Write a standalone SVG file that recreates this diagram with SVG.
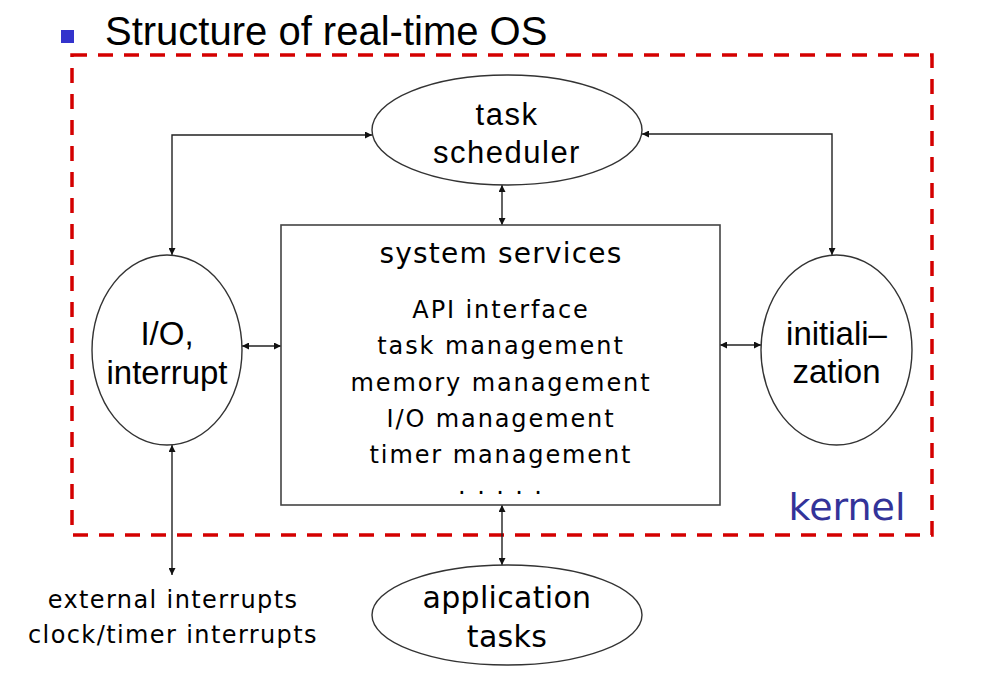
<svg xmlns="http://www.w3.org/2000/svg" width="984" height="678" viewBox="0 0 984 678">
<defs>
<style>
.title{font-family:"Liberation Sans",Arial,sans-serif;font-size:40px;fill:#000}
.lbl{font-family:"Liberation Sans",Arial,sans-serif;font-size:33px;fill:#000;text-anchor:middle}
.sch{font-family:"Liberation Sans",Arial,sans-serif;font-size:31px;letter-spacing:1.5px;fill:#000;text-anchor:middle}
.wide{font-family:"DejaVu Sans",sans-serif;fill:#000;text-anchor:middle}
.hdr{font-size:28px;letter-spacing:1.2px}
.item{font-size:24px;letter-spacing:1.9px}
.ext{font-size:24px;letter-spacing:1.4px}
.app{font-size:30px;letter-spacing:0.3px}
.node{fill:#fff;stroke:#333;stroke-width:1.4}
.conn{fill:none;stroke:#222;stroke-width:1.4}
</style>
<marker id="ah" viewBox="0 0 10 10" refX="10" refY="5" markerWidth="9" markerHeight="7" markerUnits="userSpaceOnUse" orient="auto-start-reverse">
<path d="M0,0 L10,5 L0,10 z" fill="#111"/>
</marker>
</defs>
<rect width="984" height="678" fill="#fff"/>

<g id="title">
<rect x="61" y="30" width="13" height="13" fill="#3333cc"/>
<text class="title" x="105" y="45">Structure of real-time OS</text>
</g>

<g id="kernel">
<rect x="72" y="55" width="860" height="480" fill="none" stroke="#d40000" stroke-width="3.5" stroke-dasharray="15 11"/>
<text class="wide" x="847" y="520" font-size="38" style="fill:#333399">kernel</text>
</g>

<g id="connectors">
<path class="conn" d="M372,135 H172 V255" marker-start="url(#ah)" marker-end="url(#ah)"/>
<path class="conn" d="M642,134 H832 V255" marker-start="url(#ah)" marker-end="url(#ah)"/>
<path class="conn" d="M502,185 V225" marker-start="url(#ah)" marker-end="url(#ah)"/>
<path class="conn" d="M242,346 H281" marker-start="url(#ah)" marker-end="url(#ah)"/>
<path class="conn" d="M720,345 H761" marker-start="url(#ah)" marker-end="url(#ah)"/>
<path class="conn" d="M502,505 V565" marker-start="url(#ah)" marker-end="url(#ah)"/>
<path class="conn" d="M172,445 V575" marker-start="url(#ah)" marker-end="url(#ah)"/>
</g>

<g id="task-scheduler">
<ellipse class="node" cx="507" cy="130" rx="135" ry="55"/>
<text class="sch" x="507" y="125">task</text>
<text class="sch" x="507" y="163">scheduler</text>
</g>

<g id="system-services">
<rect class="node" x="281" y="225" width="439" height="280" style="stroke:#444;stroke-width:1.6"/>
<text class="wide hdr" x="501" y="263">system services</text>
<text class="wide item" x="501" y="318">API interface</text>
<text class="wide item" x="501" y="354">task management</text>
<text class="wide item" x="501" y="391">memory management</text>
<text class="wide item" x="501" y="427">I/O management</text>
<text class="wide item" x="501" y="463">timer management</text>
<text class="wide item" x="501" y="494">. . . . .</text>
</g>

<g id="io-interrupt">
<ellipse class="node" cx="167" cy="350" rx="75" ry="95"/>
<text class="lbl" x="167" y="345">I/O,</text>
<text class="lbl" x="167" y="384">interrupt</text>
</g>

<g id="initialization">
<ellipse class="node" cx="836.5" cy="350" rx="75.5" ry="95"/>
<text class="lbl" x="836.5" y="345">initiali–</text>
<text class="lbl" x="836.5" y="383">zation</text>
</g>

<g id="application-tasks">
<ellipse class="node" cx="507" cy="615" rx="135" ry="50"/>
<text class="wide app" x="507" y="608">application</text>
<text class="wide app" x="507" y="647">tasks</text>
</g>

<g id="external">
<text class="wide ext" x="173" y="608">external interrupts</text>
<text class="wide ext" x="173" y="643">clock/timer interrupts</text>
</g>
</svg>
